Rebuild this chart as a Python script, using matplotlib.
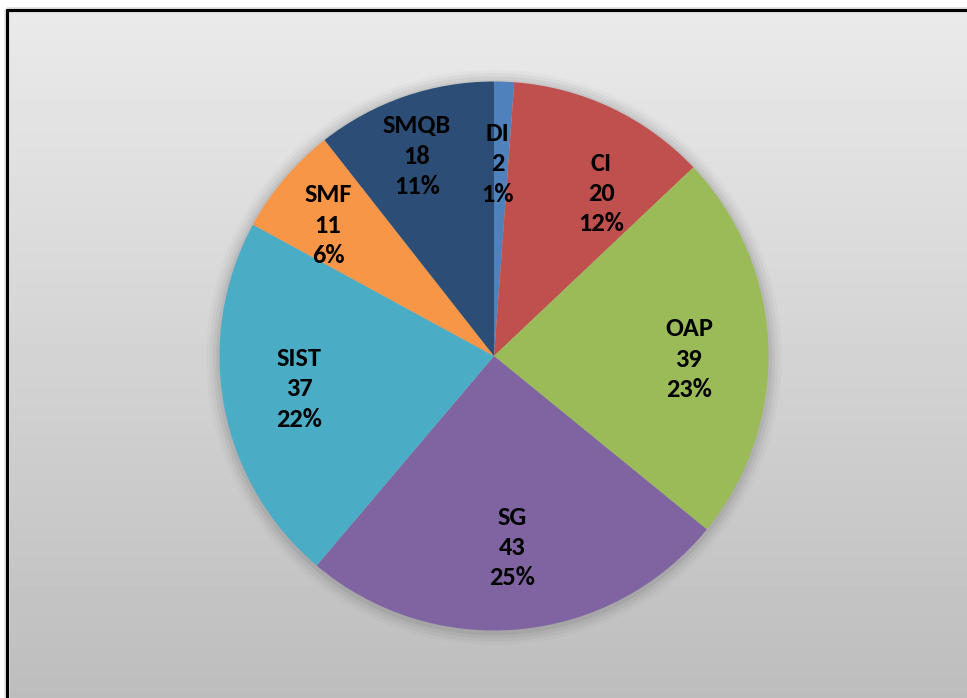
import numpy as np
import matplotlib
matplotlib.use("Agg")
from matplotlib import pyplot as plt
from matplotlib.patches import Circle
from matplotlib import font_manager

# data
categories = ["DI", "CI", "OAP", "SG", "SIST", "SMF", "SMQB"]
values = [2, 20, 39, 43, 37, 11, 18]
percents = ["1%", "12%", "23%", "25%", "22%", "6%", "11%"]
colors = ["#4F81BD", "#C0504D", "#9BBB59", "#8064A2", "#4BACC6", "#F79646", "#2C4D75"]

# label placement (fraction of radius, angle nudge in degrees)
label_r = [0.70, 0.71, 0.71, 0.70, 0.72, 0.77, 0.78]
label_nudge = [-1, 8, 3, 0, 1, -2, -2]

# pick a bold face that really exists
fam = "Liberation Sans"
for f in font_manager.fontManager.ttflist:
    if f.name in ("Lato", "Carlito") and (f.weight in ("bold", 700) or str(f.weight) == "700"):
        fam = f.name
        break
plt.rcParams['font.family'] = [fam, 'DejaVu Sans']

W, H = 967, 698
fig = plt.figure(figsize=(W / 100, H / 100), dpi=100)

# background with vertical gradient and border (cut at right/bottom)
bg = fig.add_axes([0, 0, 1, 1])
bg.set_xlim(0, W)
bg.set_ylim(H, 0)
bg.axis("off")
top, left = 10, 7
grad = np.linspace(234, 189, 200) / 255.0
img = np.repeat(grad[:, None], 2, axis=1)
bg.imshow(img, cmap="gray", vmin=0, vmax=1, extent=[left, W, H, top],
          aspect="auto", interpolation="bilinear")
bg.plot([left, left], [H, top], color="#DDDDDD", lw=4, solid_capstyle="butt", zorder=1)
bg.plot([left, W], [top, top], color="#DDDDDD", lw=4, solid_capstyle="butt", zorder=1)
bg.plot([left, left, W], [H, top, top], color="black", lw=2.2,
        solid_joinstyle="miter", zorder=2)

# pie axes
cx, cy, R = 494, 356, 274.5
half = 300
ax = fig.add_axes([(cx - half) / W, (H - cy - half) / H, 2 * half / W, 2 * half / H])

# soft shadow
for i, a in enumerate([0.05, 0.04, 0.03, 0.02]):
    ax.add_patch(Circle((0, -0.005), 1 + 0.012 * (i + 1), color="black", alpha=a, lw=0, zorder=0))

wedges, _ = ax.pie(values, colors=colors, startangle=90, counterclock=False,
                   radius=1, wedgeprops=dict(linewidth=0))
ax.set_xlim(-half / R, half / R)
ax.set_ylim(-half / R, half / R)
ax.axis("off")

for w, cat, v, p, r, dn in zip(wedges, categories, values, percents, label_r, label_nudge):
    ang = np.deg2rad((w.theta1 + w.theta2) / 2 - dn)
    ax.text(r * np.cos(ang), r * np.sin(ang), f"{cat}\n{v}\n{p}",
            ha="center", va="center", fontsize=19, fontweight="bold",
            linespacing=1.38, color="black")

fig.savefig("out.png", dpi=100)
